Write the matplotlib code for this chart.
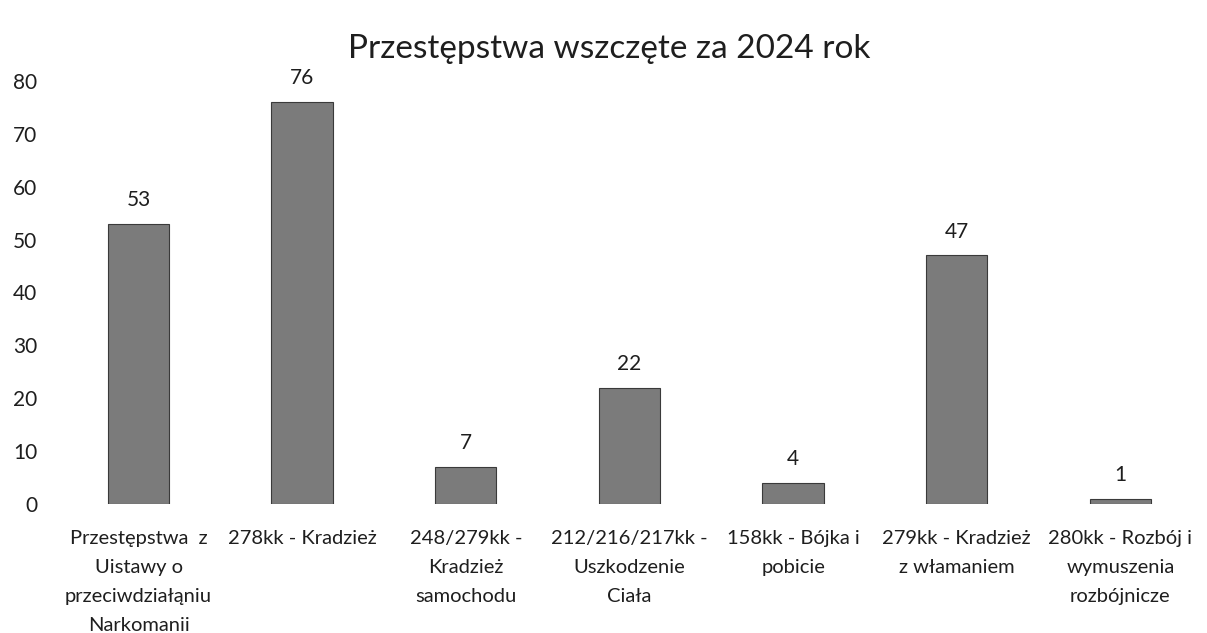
import matplotlib.pyplot as plt

plt.rcParams['font.family'] = ['Lato', 'DejaVu Sans']

# data
categories = [
    "Przestępstwa  z\nUistawy o\nprzeciwdziałąniu\nNarkomanii",
    "278kk - Kradzież",
    "248/279kk -\nKradzież\nsamochodu",
    "212/216/217kk -\nUszkodzenie\nCiała",
    "158kk - Bójka i\npobicie",
    "279kk - Kradzież\nz włamaniem",
    "280kk - Rozbój i\nwymuszenia\nrozbójnicze",
]
values = [53, 76, 7, 22, 4, 47, 1]
yticks = [0, 10, 20, 30, 40, 50, 60, 70, 80]
title = "Przestępstwa wszczęte za 2024 rok"

fig = plt.figure(figsize=(12.07, 6.33), dpi=100)
ax = fig.add_axes([0.047, 0.204, 0.949, 0.668])

x = list(range(len(values)))
ax.bar(x, values, width=0.375, color='#7b7b7b', edgecolor='#3a3a3a',
       linewidth=0.8)
for xi, v in zip(x, values):
    ax.annotate(str(v), (xi, v), xytext=(0, 10), textcoords='offset points',
                ha='center', va='bottom', fontsize=15, color='#1e1e1e')

ax.set_xlim(-0.5, len(values) - 0.5)
ax.set_ylim(0, 80)
ax.set_yticks(yticks)
ax.set_xticks(x)
ax.set_xticklabels(categories, fontsize=14.5, color='#1e1e1e', linespacing=1.85)
ax.tick_params(axis='y', length=0, pad=14, labelsize=15, labelcolor='#1e1e1e')
ax.tick_params(axis='x', length=0, pad=19)
for side in ['top', 'right', 'left', 'bottom']:
    ax.spines[side].set_visible(False)

fig.text(0.505, 0.922, title, ha='center', va='center', fontsize=24,
         color='#1e1e1e')

fig.savefig('out.png', dpi=100)
